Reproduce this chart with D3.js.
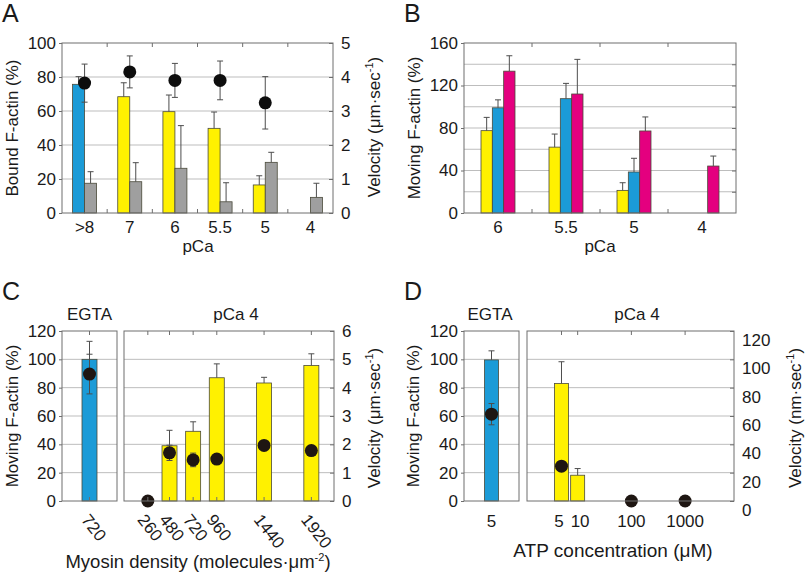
<!DOCTYPE html>
<meta charset="utf-8" />
<style>body{margin:0;background:#fff}</style>
<svg width="805" height="576"></svg>
<script src="https://d3js.org/d3.v7.min.js"></script>
<script>
    // ---- data ----
    // A: bound F-actin (%) and velocity (um/s) vs pCa
    var pcaA = [">8", "7", "6", "5.5", "5", "4"];
    var boundA = [75.7, 68.4, 59.6, 49.8, 16.5, 0];
    var boundAErr = [4.5, 8.2, 9.8, 9.6, 5.4, 0];
    var boundGrayA = [17.5, 18.4, 26.3, 6.6, 29.8, 9.2];
    var boundGrayAErr = [6.8, 11.2, 25.1, 11.2, 5.9, 8.3];
    var velA = [3.82, 4.15, 3.9, 3.9, 3.24, null];
    var velAErr = [0.56, 0.47, 0.5, 0.57, 0.77, 0];

    // B: moving F-actin (%) vs pCa, three series
    var pcaB = ["6", "5.5", "5", "4"];
    var movYellowB = [77.5, 62, 21.3, 0];
    var movYellowBErr = [12.5, 12.3, 7.2, 0];
    var movBlueB = [99, 107.6, 38.6, 0];
    var movBlueBErr = [7.5, 14.4, 12.9, 0];
    var movMagentaB = [133.5, 112, 77.2, 44.2];
    var movMagentaBErr = [14.5, 32.6, 13.2, 9.4];

    // C: moving F-actin (%) and velocity vs myosin density
    var densEgta = [720];
    var movEgtaC = [100];
    var movEgtaCErr = [12.7];
    var velEgtaC = [4.48];
    var velEgtaCErr = [0.7];
    var densC = [260, 480, 720, 960, 1440, 1920];
    var movC = [0, 39, 49.2, 87, 83.3, 95.6];
    var movCErr = [0, 10.9, 6.7, 9.8, 4, 8.3];
    var velC = [0, 1.7, 1.45, 1.48, 1.96, 1.78];
    var velCErr = [0, 0.27, 0.24, 0.1, 0.08, 0.08];

    // D: moving F-actin (%) and velocity (nm/s) vs ATP
    var atpEgta = [5];
    var movEgtaD = [99.6];
    var movEgtaDErr = [6.4];
    var velEgtaD = [61.3];
    var velEgtaDErr = [7.5];
    var atpD = [5, 10, 100, 1000];
    var movD = [82.9, 18.2, 0, 0];
    var movDErr = [15.4, 4.7, 0, 0];
    var velD = [24.6, null, 0, 0];

    var BLUE = "#1b9bd7", YELLOW = "#fff100", MAGENTA = "#e4007f", GRAY = "#9f9f9f";
    var FONT = "'Liberation Sans', Arial, sans-serif";
    var FS = 17;

    var svg = d3.select("svg");

    function txt(g, x, y, s, opts) {
        opts = opts || {};
        var t = g.append("text")
            .attr("x", x).attr("y", y)
            .attr("font-family", FONT)
            .attr("font-size", opts.size || FS)
            .attr("fill", "#1a1a1a")
            .attr("text-anchor", opts.anchor || "middle");
        if (opts.rot) t.attr("transform", "rotate(" + opts.rot + "," + x + "," + y + ")");
        t.text(s);
        return t;
    }
    // text with a superscript part, e.g. sec^-1
    function supTxt(g, x, y, a, sup, b, rot, size) {
        var t = txt(g, x, y, "", { rot: rot, size: size });
        t.append("tspan").text(a);
        t.append("tspan").attr("dy", -7).attr("font-size", 11).text(sup);
        t.append("tspan").attr("dy", 7).text(b);
        return t;
    }

    function grid(g, y, vals, x0, x1) {
        g.append("g").selectAll("line").data(vals).enter().append("line")
            .attr("x1", x0).attr("x2", x1)
            .attr("y1", d => y(d)).attr("y2", d => y(d))
            .attr("stroke", "#bdbdbd").attr("stroke-width", 1);
    }

    function frame(g, x0, x1, y0, y1) {
        g.append("rect").attr("x", x0).attr("y", y0)
            .attr("width", x1 - x0).attr("height", y1 - y0)
            .attr("fill", "none").attr("stroke", "#6e6e6e").attr("stroke-width", 1);
    }

    function styleAxis(a) {
        a.attr("font-family", FONT).attr("font-size", FS);
        a.select(".domain").remove();
        a.selectAll("line").attr("stroke", "#6e6e6e");
        a.selectAll("text").attr("fill", "#1a1a1a");
    }

    // inward tick marks on top (and optionally bottom) edges
    function edgeTicks(g, xs, y0, y1) {
        var t = g.append("g").attr("stroke", "#6e6e6e");
        t.selectAll(".tt").data(xs).enter().append("line")
            .attr("x1", d => d).attr("x2", d => d).attr("y1", y0).attr("y2", y0 + 4);
        if (y1 == null) return;
        t.selectAll(".tb").data(xs).enter().append("line")
            .attr("x1", d => d).attr("x2", d => d).attr("y1", y1).attr("y2", y1 - 4);
    }

    function bars(g, data, xf, w, y, color) {
        g.append("g").selectAll("rect").data(data.filter(d => d.v > 0)).enter().append("rect")
            .attr("x", d => xf(d)).attr("width", w)
            .attr("y", d => y(d.v)).attr("height", d => y(0) - y(d.v))
            .attr("fill", color).attr("stroke", "#4a4a3a").attr("stroke-width", 0.8);
    }

    function errUp(g, data, cx, y) {
        var e = g.append("g").attr("stroke", "#4d4d4d").attr("stroke-width", 1);
        data.filter(d => d.e > 0).forEach(function (d) {
            var x = cx(d);
            e.append("line").attr("x1", x).attr("x2", x).attr("y1", y(d.v)).attr("y2", y(d.v + d.e));
            e.append("line").attr("x1", x - 3).attr("x2", x + 3).attr("y1", y(d.v + d.e)).attr("y2", y(d.v + d.e));
        });
    }

    function dots(g, data, cx, y, fill) {
        var e = g.append("g").attr("stroke", "#4d4d4d").attr("stroke-width", 1);
        data.filter(d => d.v != null && d.e > 0).forEach(function (d) {
            var x = cx(d);
            e.append("line").attr("x1", x).attr("x2", x).attr("y1", y(d.v - d.e)).attr("y2", y(d.v + d.e));
            [d.v - d.e, d.v + d.e].forEach(function (v) {
                e.append("line").attr("x1", x - 3).attr("x2", x + 3).attr("y1", y(v)).attr("y2", y(v));
            });
        });
        g.append("g").selectAll("circle").data(data.filter(d => d.v != null)).enter().append("circle")
            .attr("cx", cx).attr("cy", d => y(d.v)).attr("r", 6.5).attr("fill", fill);
    }

    function zip(keys, vals, errs) {
        return keys.map((k, i) => ({ k: k, v: vals[i], e: errs ? errs[i] : 0 }));
    }

    function leftAxis(g, y, vals, x) {
        g.append("g").attr("transform", "translate(" + x + ",0)")
            .call(d3.axisLeft(y).tickValues(vals).tickSizeInner(3).tickSizeOuter(0).tickPadding(3))
            .call(styleAxis);
    }
    function rightAxis(g, y, vals, x, fmt) {
        return g.append("g").attr("transform", "translate(" + x + ",0)")
            .call(d3.axisRight(y).tickValues(vals).tickSizeInner(-4).tickSizeOuter(0).tickPadding(8).tickFormat(fmt))
            .call(styleAxis);
    }

    // ================= Panel A =================
    (function () {
        var g = svg.append("g");
        var L = 62, R = 333, T = 43, B = 213;
        var x = d3.scaleBand().domain(pcaA).range([L, R]);
        var y = d3.scaleLinear().domain([0, 100]).range([B, T]);
        var v = d3.scaleLinear().domain([0, 5]).range([B, T]);
        var c = d => x(d.k) + x.bandwidth() / 2;
        grid(g, y, [20, 40, 60, 80], L, R);

        var col = zip(pcaA, boundA, boundAErr);
        var gray = zip(pcaA, boundGrayA, boundGrayAErr);
        bars(g, col.slice(0, 1), d => c(d) - 12, 12, y, BLUE);
        bars(g, col.slice(1), d => c(d) - 12, 12, y, YELLOW);
        bars(g, gray, d => c(d), 12, y, GRAY);
        errUp(g, col, d => c(d) - 6, y);
        errUp(g, gray, d => c(d) + 6, y);
        dots(g, zip(pcaA, velA, velAErr), c, v, "#0d0d0d");

        frame(g, L, R, T, B);
        edgeTicks(g, pcaA.slice(1).map(d => x(d)), T, B);

        leftAxis(g, y, [0, 20, 40, 60, 80, 100], L);
        rightAxis(g, v, [0, 1, 2, 3, 4, 5], R, d3.format("d"));
        g.append("g").attr("transform", "translate(0," + B + ")")
            .call(d3.axisBottom(x).tickSize(0).tickPadding(8))
            .call(styleAxis);

        txt(g, 198, 252, "pCa");
        txt(g, 18, 128, "Bound F-actin (%)", { rot: -90 });
        supTxt(g, 380, 127, "Velocity (μm·sec", "-1", ")", -90).attr("text-anchor", "middle");
        txt(g, 2, 22, "A", { size: 25, anchor: "start" });
    })();

    // ================= Panel B =================
    (function () {
        var g = svg.append("g");
        var L = 464, R = 736, T = 43, B = 213;
        var x = d3.scaleBand().domain(pcaB).range([L, R]);
        var y = d3.scaleLinear().domain([0, 160]).range([B, T]);
        var sub = d3.scaleBand().domain(["y", "b", "m"]).range([-17, 17]);
        var c = d => x(d.k) + x.bandwidth() / 2;
        grid(g, y, [20, 40, 60, 80, 100, 120, 140], L, R);

        var series = [
            ["y", zip(pcaB, movYellowB, movYellowBErr), YELLOW],
            ["b", zip(pcaB, movBlueB, movBlueBErr), BLUE],
            ["m", zip(pcaB, movMagentaB, movMagentaBErr), MAGENTA]
        ];
        series.forEach(function (s) {
            bars(g, s[1], d => c(d) + sub(s[0]), sub.bandwidth(), y, s[2]);
        });
        series.forEach(function (s) {
            errUp(g, s[1], d => c(d) + sub(s[0]) + sub.bandwidth() / 2, y);
        });

        frame(g, L, R, T, B);
        edgeTicks(g, pcaB.slice(1).map(d => x(d)), T, B);
        // right-edge ticks at gridlines
        rightAxis(g, y, [20, 40, 60, 80, 100, 120, 140], R, () => "");

        leftAxis(g, y, [0, 40, 80, 120, 160], L);
        g.append("g").attr("transform", "translate(0," + B + ")")
            .call(d3.axisBottom(x).tickSize(0).tickPadding(8))
            .call(styleAxis);

        txt(g, 600, 252, "pCa");
        txt(g, 420, 128, "Moving F-actin (%)", { rot: -90 });
        txt(g, 404, 22, "B", { size: 25, anchor: "start" });
    })();

    // ================= Panel C =================
    (function () {
        var g = svg.append("g");
        var T = 331, B = 501;
        var eL = 62, eR = 117, L = 124, R = 334;
        var y = d3.scaleLinear().domain([0, 120]).range([B, T]);
        var v = d3.scaleLinear().domain([0, 6]).range([B, T]);
        var xe = d3.scaleBand().domain(densEgta).range([eL, eR]);
        var x = d3.scaleLinear().domain([18, 2150]).range([L, R]);
        var ce = d => xe(d.k) + xe.bandwidth() / 2;
        var c = d => x(d.k);
        grid(g, y, [20, 40, 60, 80, 100], eL, eR);
        grid(g, y, [20, 40, 60, 80, 100], L, R);

        var egta = zip(densEgta, movEgtaC, movEgtaCErr);
        bars(g, egta, d => ce(d) - 7.5, 15, y, BLUE);
        errUp(g, egta, ce, y);
        dots(g, zip(densEgta, velEgtaC, velEgtaCErr), ce, v, "#1e1612");

        var main = zip(densC, movC, movCErr);
        bars(g, main, d => c(d) - 7.5, 15, y, YELLOW);
        errUp(g, main, c, y);
        dots(g, zip(densC, velC, velCErr), c, v, "#1e1612");

        frame(g, eL, eR, T, B);
        frame(g, L, R, T, B);
        edgeTicks(g, densC.map(d => x(d)), T, B);
        edgeTicks(g, densEgta.map(d => xe(d) + xe.bandwidth() / 2), T, B);

        leftAxis(g, y, [0, 20, 40, 60, 80, 100, 120], eL);
        rightAxis(g, v, [0, 1, 2, 3, 4, 5, 6], R, d3.format("d"));

        // rotated category labels
        var lab = g.append("g");
        densEgta.forEach(function (d) { txt(lab, xe(d) + xe.bandwidth() / 2 - 9, 520, d, { anchor: "start", rot: 52 }); });
        densC.forEach(function (d) { txt(lab, x(d) - 11, 520, d, { anchor: "start", rot: 52 }); });

        txt(g, 89.5, 320, "EGTA");
        txt(g, 236, 320, "pCa 4");
        txt(g, 18, 416, "Moving F-actin (%)", { rot: -90 });
        supTxt(g, 380, 418, "Velocity (μm·sec", "-1", ")", -90).attr("text-anchor", "middle");
        supTxt(g, 198, 568, "Myosin density (molecules·μm", "-2", ")", 0, 18.5).attr("text-anchor", "middle");
        txt(g, 2, 300, "C", { size: 25, anchor: "start" });
    })();

    // ================= Panel D =================
    (function () {
        var g = svg.append("g");
        var T = 331, B = 501;
        var eL = 464, eR = 519, L = 527, R = 734;
        var y = d3.scaleLinear().domain([0, 120]).range([B, T]);
        var v = d3.scaleLinear().domain([0, 120]).range([B, T]);
        var xe = d3.scaleBand().domain(atpEgta).range([eL, eR]);
        var x = d3.scaleLog().domain([1.14, 8130]).range([L, R]);
        var ce = d => xe(d.k) + xe.bandwidth() / 2;
        var c = d => x(d.k);
        grid(g, y, [20, 40, 60, 80, 100], eL, eR);
        grid(g, y, [20, 40, 60, 80, 100], L, R);

        var egta = zip(atpEgta, movEgtaD, movEgtaDErr);
        bars(g, egta, d => ce(d) - 7, 14, y, BLUE);
        errUp(g, egta, ce, y);
        dots(g, zip(atpEgta, velEgtaD, velEgtaDErr), ce, v, "#1e1612");

        var main = zip(atpD, movD, movDErr);
        bars(g, main, d => c(d) - 7, 14, y, YELLOW);
        errUp(g, main, c, y);
        dots(g, zip(atpD, velD, null), c, v, "#1e1612");

        frame(g, eL, eR, T, B);
        frame(g, L, R, T, B);
        edgeTicks(g, atpD.map(d => x(d)), T);

        leftAxis(g, y, [0, 20, 40, 60, 80, 100, 120], eL);
        var ra = rightAxis(g, v, [0, 20, 40, 60, 80, 100, 120], R, d3.format("d"));
        ra.selectAll("text").attr("dy", "0.85em");

        var lab = g.append("g");
        atpEgta.forEach(function (d) { txt(lab, xe(d) + xe.bandwidth() / 2, 527, d); });
        // spread labels that would touch (5 and 10 sit close on the log axis)
        var lx = atpD.map(d => x(d));
        for (var i = 1; i < lx.length; i++) {
            var need = (String(atpD[i - 1]).length + String(atpD[i]).length) * 4.7 + 7;
            if (lx[i] - lx[i - 1] < need) {
                var sh = (need - (lx[i] - lx[i - 1])) / 2;
                lx[i - 1] -= sh; lx[i] += sh;
            }
        }
        atpD.forEach(function (d, i) { txt(lab, lx[i], 527, d); });

        txt(g, 490, 320, "EGTA");
        txt(g, 637, 320, "pCa 4");
        txt(g, 419, 416, "Moving F-actin (%)", { rot: -90 });
        supTxt(g, 801, 418, "Velocity (nm·sec", "-1", ")", -90).attr("text-anchor", "middle");
        txt(g, 613, 557, "ATP concentration (μM)", { size: 19 });
        txt(g, 404, 300, "D", { size: 25, anchor: "start" });
    })();
</script>
